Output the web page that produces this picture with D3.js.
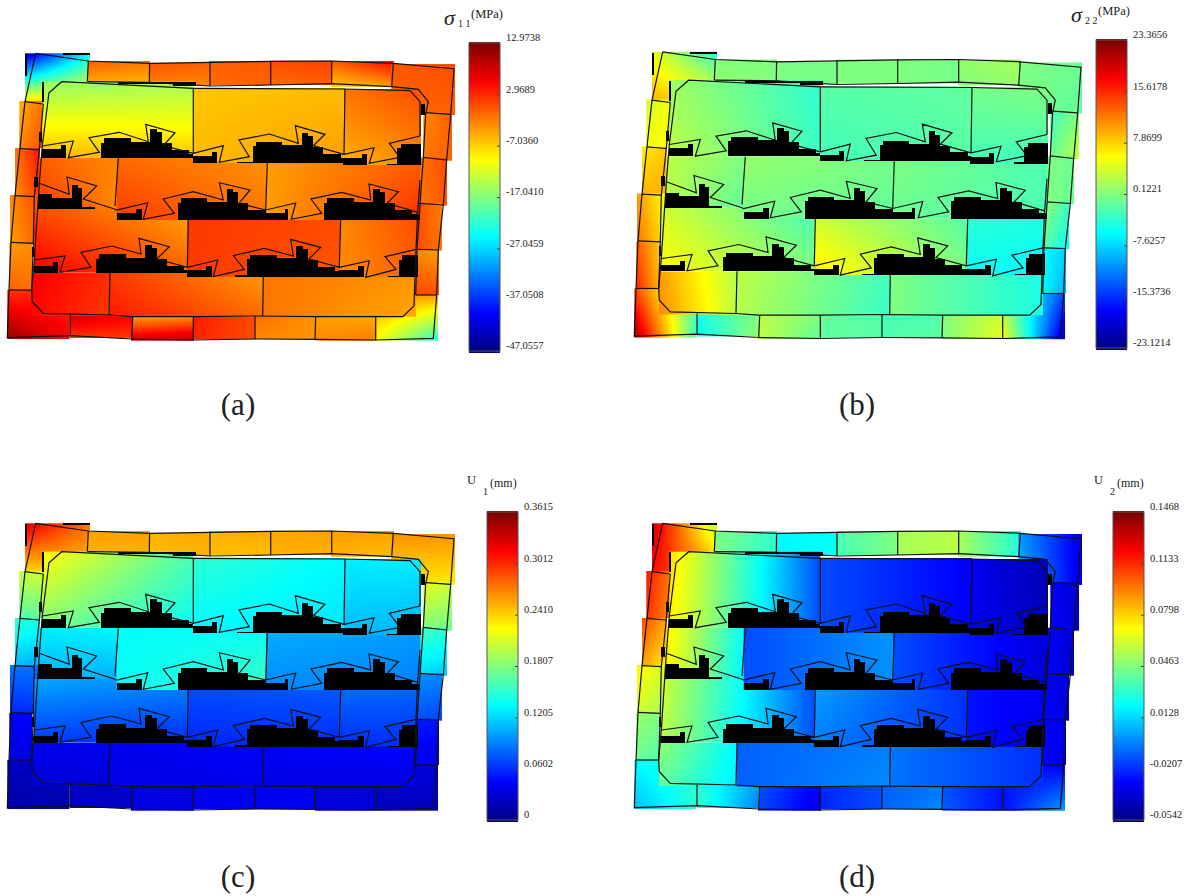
<!DOCTYPE html>
<html>
<head>
<meta charset="utf-8">
<title>Stress and displacement contours</title>
<script src="https://cdnjs.cloudflare.com/ajax/libs/d3/7.8.5/d3.min.js"></script>
<style>
  body { margin: 0; background: #fff; }
  text { font-family: "Liberation Serif", serif; fill: #222; }
</style>
</head>
<body>
<div id="chart-area"></div>
<script>
// mesh is in model units, each panel maps it with its own scales
// patch order is also the paint order: ring, then rows bottom to top
const patches = [
  [25,53.3,90,102],[88,61,150,82.3],[149.3,63,210,86],[209.3,61,271,85],[270.7,60.7,331.7,85],[331,61,393.7,86.7],[391.3,64,455,115],
  [423.3,112,452,160.7],[419,157.7,447,205.7],[416.7,203,442,250.7],[415.7,250,439,295],[375.7,295,438,340.7],
  [315,316.7,375.7,340.7],[255,316,315.7,339],[193.3,316.7,255,339.3],[131,316.7,194,340.7],[70,315,132,338],[7.3,290,69.5,339],
  [9.3,243,32,290],[10,195,38.5,243],[15,148,40,195],[19.3,101,43.3,148],
  [32,273,110,316],[110,272.7,263,316.7],[263,276,416,316.7],
  [34,209,188,272.7],[187.3,220,341,276.7],[340,220,417,276.7],
  [39.3,157.7,118,209],[116.7,157.7,267,220],[266,157.7,420.3,220],
  [42.3,81.7,193.3,157.7],[193.3,88,345,162.7],[344,89,421,165]
];

// corner values of each patch: top-left, top-right, bottom-left, bottom-right
const sigma11 = [
  [-42.3,-24.3,-7.4,-7.4],[-0.2,-1.4,-4.4,-5.0],[0.4,-0.2,-2.0,-2.6],[-0.2,0.4,-0.8,-0.2],[1.0,1.6,-0.8,-0.2],[-0.2,5.2,-6.2,-3.8],[0.4,1.0,-0.8,-0.2],
  [-2.6,-0.2,-1.4,-0.2],[-1.4,1.0,-1.4,0.4],[1.0,-2.0,1.0,-1.4],[-2.6,-3.8,1.0,1.0],[-2.6,-3.8,-9.8,-21.9],
  [-3.8,-4.4,-2.6,-2.0],[-0.8,-3.2,-2.6,-3.2],[4.0,1.0,3.4,1.0],[-3.8,-2.6,8.2,10.0],[8.2,5.8,2.2,2.2],[2.2,4.0,11.8,5.2],
  [-3.8,-2.6,-0.2,-1.4],[-2.6,1.0,-3.8,-0.2],[-1.4,4.6,-2.6,2.2],[-5.0,-1.4,-2.6,1.0],
  [5.8,2.8,5.2,2.2],[2.2,-3.8,4.0,-0.8],[-1.4,-3.2,-1.4,-4.4],
  [1.0,-4.4,5.8,-0.2],[2.2,1.0,2.2,0.4],[-2.6,1.0,-2.6,-0.2],
  [-0.2,-2.6,2.2,-2.6],[-0.8,-3.2,2.2,-1.4],[-3.8,-0.2,-3.8,2.8],
  [-15.8,-14.6,-5.0,-6.2],[-6.2,-5.6,-5.6,-3.8],[-1.4,1.0,-5.0,-2.6]
];
const sigma22 = [
  [4.8,-3.6,9.4,5.7],[0.1,0.1,1.1,0.1],[0.1,-0.3,0.1,-0.3],[0.1,0.1,0.1,0.1],[0.1,-0.3,0.1,-0.3],[1.1,2.0,0.1,1.1],[0.1,-0.8,0.1,-1.3],
  [-2.7,0.1,-0.8,2.9],[0.1,-0.8,0.1,-0.8],[1.1,-2.7,-1.7,-5.5],[-5.5,-7.8,-5.9,-9.2],[0.1,-13.8,5.7,-20.3],
  [0.1,3.8,0.1,4.8],[-2.2,-2.2,-2.2,-1.3],[-1.3,-1.7,-1.3,-1.7],[2.9,0.1,2.9,-1.3],[-4.5,0.1,-5.5,1.1],[14.1,-2.2,21.5,-2.7],
  [13.1,8.5,15.9,9.4],[10.4,5.7,12.2,7.1],[6.6,8.5,9.4,9.4],[3.8,5.7,5.7,5.7],
  [10.4,2.5,11.3,2.9],[2.9,-2.7,2.5,-3.1],[0.1,-4.5,0.1,-4.5],
  [3.8,-2.7,6.2,0.1],[3.8,-1.7,7.1,0.1],[-3.6,-4.5,-5.5,-5.5],
  [2.9,0.1,2.5,-1.3],[1.1,-0.3,-0.3,-1.3],[0.1,-2.2,-0.8,-2.2],
  [1.5,-3.6,2.9,-3.1],[-1.7,-1.3,-2.7,-1.7],[-0.3,0.1,-2.7,-2.7]
];
const u1 = [
  [0.325,0.275,0.239,0.246],[0.260,0.260,0.253,0.253],[0.253,0.257,0.249,0.253],[0.253,0.257,0.249,0.249],[0.257,0.260,0.253,0.253],[0.260,0.260,0.253,0.249],[0.264,0.264,0.239,0.231],
  [0.217,0.210,0.181,0.174],[0.159,0.152,0.123,0.116],[0.098,0.094,0.072,0.069],[0.054,0.051,0.040,0.040],[0.032,0.032,0.022,0.022],
  [0.032,0.032,0.032,0.032],[0.040,0.040,0.040,0.040],[0.040,0.040,0.040,0.040],[0.036,0.036,0.036,0.036],[0.025,0.025,0.025,0.025],[0.025,0.025,0.014,0.018],
  [0.043,0.047,0.033,0.036],[0.087,0.087,0.058,0.061],[0.152,0.145,0.112,0.108],[0.206,0.210,0.166,0.170],
  [0.040,0.040,0.029,0.033],[0.040,0.043,0.036,0.040],[0.043,0.047,0.036,0.036],
  [0.105,0.094,0.065,0.061],[0.072,0.076,0.058,0.061],[0.083,0.080,0.061,0.061],
  [0.130,0.134,0.108,0.108],[0.137,0.137,0.137,0.159],[0.108,0.101,0.094,0.090],
  [0.228,0.163,0.181,0.137],[0.152,0.134,0.134,0.127],[0.130,0.130,0.112,0.108]
];
const u2 = [
  [0.131,0.056,0.119,0.090],[0.046,0.030,0.046,0.030],[0.020,0.022,0.020,0.024],[0.036,0.046,0.036,0.046],[0.054,0.058,0.054,0.058],[0.054,0.028,0.054,0.028],[0.002,-0.034,0.006,-0.034],
  [-0.030,-0.038,-0.030,-0.038],[-0.030,-0.038,-0.028,-0.038],[-0.028,-0.038,-0.028,-0.036],[-0.028,-0.034,-0.028,-0.034],[-0.026,-0.030,-0.026,0.002],
  [-0.014,-0.026,-0.010,-0.026],[-0.010,-0.006,-0.010,-0.002],[-0.022,-0.014,-0.022,-0.014],[-0.014,-0.032,-0.014,-0.034],[0.030,0.002,0.032,-0.004],[0.022,0.030,0.008,0.030],
  [0.052,0.046,0.042,0.038],[0.074,0.062,0.062,0.054],[0.107,0.090,0.090,0.074],[0.117,0.099,0.111,0.095],
  [0.050,0.020,0.040,0.018],[-0.010,-0.004,-0.010,-0.002],[-0.006,-0.020,-0.006,-0.020],
  [0.062,-0.014,0.058,-0.014],[0.002,-0.020,-0.004,-0.020],[-0.026,-0.032,-0.026,-0.032],
  [0.074,0.022,0.074,0.018],[-0.014,0.000,-0.014,0.000],[-0.014,-0.036,-0.014,-0.036],
  [0.078,-0.014,0.074,-0.014],[-0.014,-0.030,-0.014,-0.030],[-0.032,-0.044,-0.032,-0.042]
];

const tickLabels11 = ["12.9738","2.9689","-7.0360","-17.0410","-27.0459","-37.0508","-47.0557"];
const tickLabels22 = ["23.3656","15.6178","7.8699","0.1221","-7.6257","-15.3736","-23.1214"];
const tickLabelsU1 = ["0.3615","0.3012","0.2410","0.1807","0.1205","0.0602","0"];
const tickLabelsU2 = ["0.1468","0.1133","0.0798","0.0463","0.0128","-0.0207","-0.0542"];

// outlines of the ring and of the block inside it
const meshLines = [
  [[35.7,53.3],[88.3,61],[150,63.3],[210,62.3],[270.7,61.3],[331.7,61],[393.3,63.3],[454,68.7],[450.7,114.3],[446.7,160],[443.3,205],[438.3,250],[436.7,295],[433.3,338.3],[375.7,340],[315,339.3],[255,339],[193.3,340],[131.7,339],[70,335.7],[7.3,337.7],[9,290],[11,242.3],[15,195.7],[20,148.3],[25,101.7],[35.7,53.3]],
  [[88,81.7],[149.3,82.3],[210,86],[270.7,85],[331.7,83.7],[391.7,86.7],[418.3,89.3],[428.3,101.7],[425.7,113.3],[423.3,157],[420,205],[417,250],[415.7,295]],
  [[43.3,104],[39.3,150],[34.3,196.7],[33.3,243.3],[31.7,290]],
  [[193.3,88.3],[61.7,81.7],[49,92.7],[42.3,146],[39.3,184]],
  [[193.3,88.3],[345,89],[410,90.7],[420,101.7],[420,136]],
  [[420,180],[417.7,212.3],[416,249.3],[415,276.7],[414,306],[402.7,316.7],[375.7,316.7],[315.7,316.7],[255,316],[193.3,316.7],[131.7,316.7],[109,315],[43.3,313.3],[32.3,301.7],[31.7,290],[34.3,260]],
  [[39.3,184],[34.3,260]],
  [[42.3,146],[73.3,141],[68.3,157.7],[99.3,152.3],[89,137.7],[119.3,132.3],[148.3,141.7],[145.7,124.3],[175,132.7],[163.3,145.7],[193.3,153.3],[223.3,145.7],[219.3,162.3],[249.3,156.7],[239,140],[269.3,134],[298.3,143.3],[295.3,125.7],[325,134.3],[313.3,145.7],[344,154.3],[374,147.7],[369.3,163.3],[400,157.3],[389.3,143.3],[420,136]],
  [[39.3,183.3],[69.3,194.3],[67,177],[96.7,186],[83.3,199],[114.3,209],[116.7,210],[147.7,202.7],[143.3,219.3],[174.3,213.3],[163.3,199],[193.3,191.7],[223.3,200],[219.3,182.7],[250,190],[239,203.3],[265.7,210],[295.7,203],[291.3,219.3],[321.7,213.3],[311,199],[341.7,192.3],[370.7,200],[369,184],[398.3,191.7],[387.3,203.3],[417.7,212.3]],
  [[34.3,260],[65,256],[60,272.3],[91,267.3],[81,252.3],[111.7,246],[141,254],[139,238.3],[169.3,246.7],[156.7,259],[187.3,267.3],[217.7,260],[213.3,276.7],[244.3,269.3],[233.3,255.7],[264.3,248.3],[293.3,256],[290.7,239.3],[320.7,247.3],[309,259],[339.3,267.3],[369.3,260.7],[365.7,277.3],[396,269.3],[385,256.7],[416,249.3]]
];
// short dividers between patches
const dividers = [
  [[88.3,61],[87.3,81.7]],[[149.6,63],[149.3,82.3]],[[210,62.3],[210,86]],[[270.7,61.3],[270.7,85]],[[331.7,61],[331.7,83.7]],[[393.3,63.3],[391.7,86.7]],
  [[425.7,112.7],[450.7,114.3]],[[423.3,157.3],[446.7,160]],[[420,203.3],[443.3,205]],[[417.7,249.3],[438.3,250]],[[415.7,295],[436.7,295]],
  [[70,315],[70,335.7]],[[132.7,317],[131.7,339]],[[193.3,316.7],[193.3,340]],[[255,316],[255,339]],[[315.7,316.7],[315,339.3]],[[375.7,316.7],[375.7,340]],
  [[9,290],[31.7,290]],[[11,242.3],[33.3,243.3]],[[15,195.7],[34.3,196.7]],[[20,148.3],[39.3,150]],[[25,101.7],[43.3,104]],
  [[193.3,88.3],[193.3,153.3]],[[345,89],[344,154.3]],
  [[118.3,158.3],[115,206]],[[267.3,162.7],[265.7,210]],
  [[188.3,220],[187.3,267.3]],[[340.7,220],[339.3,267.3]],
  [[110,272.7],[109,315]],[[263.3,276.7],[262.7,316]]
];

// black cut-outs: the same staircase, repeated along the rows
const bigStair = [[0,3.3,-17.3],[3.3,29.7,-21.7],[29.7,49,-18.3],[49,55.7,-31],[55.7,60.7,-27.7],[60.7,70.7,-16.7],[70.7,88,-10],[88,110,-6]];
const smallStair = [[0,19,-6.7],[19,25,-10.7]];
// x0, y0, clip left, clip right, bottom
const bigPlaces = [
  [101,160,101,193.3,157.7],[252.7,163.7,252.7,344,162.7],[397.3,165.7,397.3,421,165],
  [22.7,216,38.3,82.4,209],[177.7,220,177.7,265.7,220],[324,220,324,420,220],
  [96,276,96,187.3,272.7],[247,276.7,247,339.3,276.7],[399,277,399,417.7,276.7]
];
const smallPlaces = [
  [42.3,155.7,42.3,66,157.7],[193.3,162.7,193.3,217,162.7],[343.3,164.7,343.3,367.3,165],
  [116.7,220,116.7,142,220],[265.7,220,265.7,288.3,220],
  [34.3,272.7,34.3,58.3,272.7],[187.3,276.7,187.3,211.7,276.7],[339.3,276.7,339.3,364,276.7]
];
const blackBars = [
  [25,54,27,76],[63,53.3,90,55],[42.3,82,44.3,102],[118,82,196,84],[173,82,196,86],
  [39,132,42,142],[34,177,38,187],[32.3,247,34.3,257],[421,104,425,115],
  [236.7,161.5,252.7,162.7],[387,163.5,397.3,165],[235,275,247,276.7],[388,275.5,399,276.7],[82,207,95,209]
];

// jet, stops as fractions of the colour bar
const jetStops = [0,0.125,0.375,0.625,0.875,1];
const jetColors = ["#00007f","#0000ff","#00ffff","#ffff00","#ff0000","#7f0000"];

const svg = d3.select("#chart-area").append("svg")
  .attr("width", 1186)
  .attr("height", 896)
  .style("display", "block");

const line = d3.line();

function drawPanel(p) {
  const x = d3.scaleLinear().domain([0, 1186]).range([p.dx, 1186 + p.dx]);
  const y = d3.scaleLinear().domain([0, 896]).range([p.dy, 896 + p.dy]);
  const min = +p.ticks[p.ticks.length - 1], max = +p.ticks[0];
  const color = d3.scaleLinear()
    .domain(jetStops.map(s => min + s * (max - min)))
    .range(jetColors)
    .clamp(true);

  const g = svg.append("g");

  // field patches
  g.selectAll("image")
    .data(patches)
    .enter()
    .append("image")
    .attr("x", d => x(d[0]))
    .attr("y", d => y(d[1]))
    .attr("width", d => x(d[2]) - x(d[0]))
    .attr("height", d => y(d[3]) - y(d[1]))
    .attr("preserveAspectRatio", "none")
    .attr("href", (d, i) => patchImage(d, p.values[i], color));

  // black stairs
  const steps = [];
  bigPlaces.forEach(s => bigStair.forEach(b => steps.push([s, b])));
  smallPlaces.forEach(s => smallStair.forEach(b => steps.push([s, b])));
  g.selectAll("rect.stair")
    .data(steps.filter(d => {
      const s = d[0], b = d[1];
      return Math.min(s[0] + b[1], s[3]) > Math.max(s[0] + b[0], s[2]) && s[4] > s[1] + b[2];
    }))
    .enter()
    .append("rect")
    .attr("class", "stair")
    .attr("x", d => x(Math.max(d[0][0] + d[1][0], d[0][2])))
    .attr("y", d => y(d[0][1] + d[1][2]))
    .attr("width", d => Math.min(d[0][0] + d[1][1], d[0][3]) - Math.max(d[0][0] + d[1][0], d[0][2]))
    .attr("height", d => d[0][4] - d[0][1] - d[1][2])
    .attr("fill", "black")
    .attr("shape-rendering", "crispEdges");

  g.selectAll("rect.bar")
    .data(blackBars)
    .enter()
    .append("rect")
    .attr("class", "bar")
    .attr("x", d => x(d[0]))
    .attr("y", d => y(d[1]))
    .attr("width", d => d[2] - d[0])
    .attr("height", d => d[3] - d[1])
    .attr("fill", "black")
    .attr("shape-rendering", "crispEdges");

  // outlines
  line.x(d => x(d[0])).y(d => y(d[1]));
  g.selectAll("path.mesh")
    .data(meshLines.concat(dividers))
    .enter()
    .append("path")
    .attr("class", "mesh")
    .attr("d", line)
    .attr("fill", "none")
    .attr("stroke", "#111")
    .attr("stroke-width", 1.2);

  drawColorbar(g, p, color, min, max);

  // caption
  g.append("text")
    .attr("x", p.captionX)
    .attr("y", p.captionY)
    .attr("text-anchor", "middle")
    .style("font-size", "31px")
    .text(p.caption);
}

function patchImage(r, v, color) {
  const w = Math.ceil(r[2] - r[0]), h = Math.ceil(r[3] - r[1]);
  const canvas = document.createElement("canvas");
  canvas.width = w;
  canvas.height = h;
  const ctx = canvas.getContext("2d");
  const img = ctx.createImageData(w, h);
  for (let j = 0; j < h; j++) {
    const b = h > 1 ? j / (h - 1) : 0;
    for (let i = 0; i < w; i++) {
      const a = w > 1 ? i / (w - 1) : 0;
      const val = (1 - b) * ((1 - a) * v[0] + a * v[1]) + b * ((1 - a) * v[2] + a * v[3]);
      const c = d3.rgb(color(val));
      const k = (j * w + i) * 4;
      img.data[k] = c.r;
      img.data[k + 1] = c.g;
      img.data[k + 2] = c.b;
      img.data[k + 3] = 255;
    }
  }
  ctx.putImageData(img, 0, 0);
  return canvas.toDataURL();
}

function drawColorbar(g, p, color, min, max) {
  const barY = d3.scaleLinear().domain([min, max]).range([p.barTop + 308, p.barTop]);
  const levels = d3.range(256).map(i => min + (i / 255) * (max - min));
  const step = 308 / 255;

  g.selectAll("rect.level")
    .data(levels)
    .enter()
    .append("rect")
    .attr("class", "level")
    .attr("x", p.barX)
    .attr("y", d => barY(d) - step / 2)
    .attr("width", 31)
    .attr("height", step + 1)
    .attr("fill", d => color(d))
    .attr("shape-rendering", "crispEdges");

  g.append("rect")
    .attr("x", p.barX)
    .attr("y", p.barTop)
    .attr("width", 31)
    .attr("height", 308)
    .attr("fill", "none")
    .attr("stroke", "#555")
    .attr("stroke-width", 1);

  const axis = d3.axisRight(barY)
    .tickValues(p.ticks.map(Number))
    .tickFormat((d, i) => p.ticks[i])
    .tickSizeInner(-3)
    .tickSizeOuter(0)
    .tickPadding(6);

  const ag = g.append("g")
    .attr("transform", "translate(" + (p.barX + 31) + ",0)")
    .call(axis);
  ag.select(".domain").remove();
  ag.selectAll("line").attr("stroke", "#444");
  ag.selectAll("text")
    .attr("dy", "-0.22em")
    .style("font-size", "10.5px")
    .style("font-family", "'Liberation Serif', serif");

  if (p.sym === "σ") {
    g.append("text").attr("x", p.titleX).attr("y", p.titleY)
      .style("font-style", "italic").style("font-size", "22px").text("σ");
    g.append("text").attr("x", p.titleX + 14).attr("y", p.titleY + 1.5)
      .style("font-size", "10px").text(p.sub);
    g.append("text").attr("x", p.titleX + 27).attr("y", p.titleY - 7)
      .style("font-size", "12.5px").text(p.unit);
  } else {
    g.append("text").attr("x", p.titleX).attr("y", p.titleY)
      .style("font-size", "12.5px").text("U");
    g.append("text").attr("x", p.titleX + 16).attr("y", p.titleY + 11.5)
      .style("font-size", "10px").text(p.sub);
    g.append("text").attr("x", p.titleX + 23).attr("y", p.titleY + 3.5)
      .style("font-size", "12px").text(p.unit);
  }
}

[
  { values: sigma11, ticks: tickLabels11, dx: 0, dy: 0, barX: 469, barTop: 43, sym: "σ", sub: "1 1", unit: "(MPa)", titleX: 444, titleY: 25, caption: "(a)", captionX: 238, captionY: 415 },
  { values: sigma22, ticks: tickLabels22, dx: 627, dy: -1.5, barX: 1096, barTop: 40, sym: "σ", sub: "2 2", unit: "(MPa)", titleX: 1071, titleY: 22, caption: "(b)", captionX: 857, captionY: 415 },
  { values: u1, ticks: tickLabelsU1, dx: 0, dy: 470, barX: 487, barTop: 512, sym: "U", sub: "1", unit: "(mm)", titleX: 467, titleY: 483.5, caption: "(c)", captionX: 238, captionY: 887 },
  { values: u2, ticks: tickLabelsU2, dx: 627, dy: 470, barX: 1113, barTop: 512, sym: "U", sub: "2", unit: "(mm)", titleX: 1094, titleY: 483.5, caption: "(d)", captionX: 857, captionY: 887 }
].forEach(drawPanel);
</script>
</body>
</html>
